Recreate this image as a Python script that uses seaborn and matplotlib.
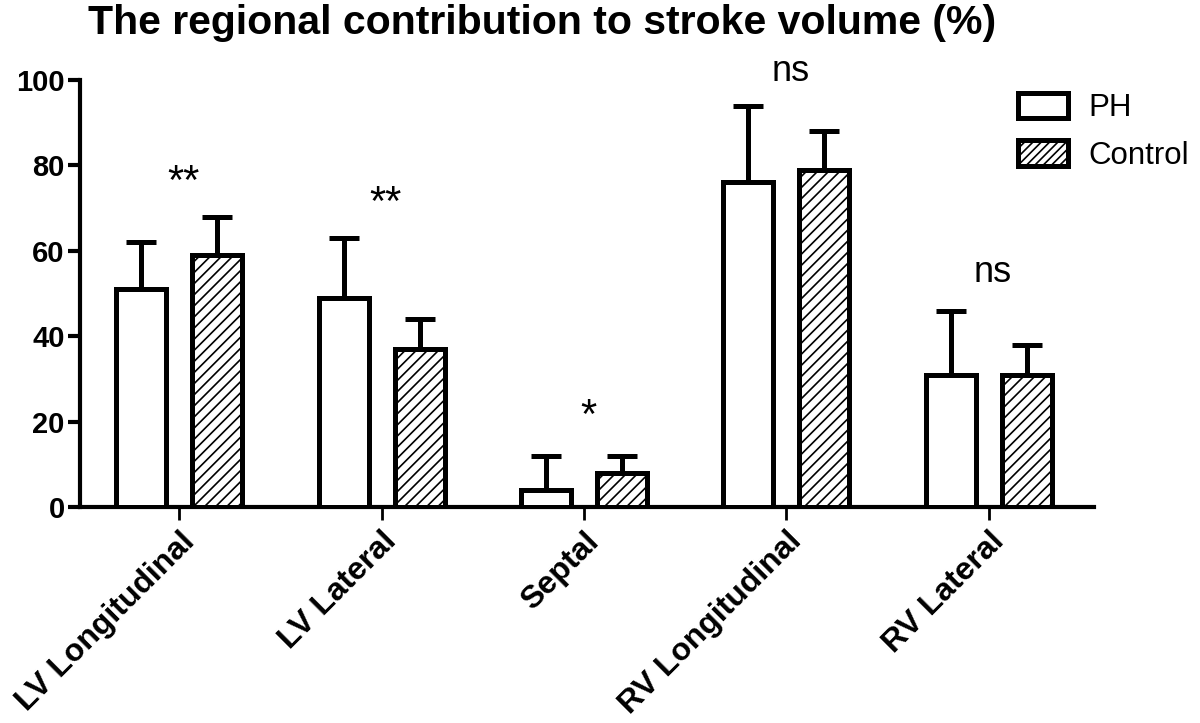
import pandas as pd
import seaborn as sns
import matplotlib.pyplot as plt
from matplotlib.patches import Patch

# Data
regions = ['LV Longitudinal', 'LV Lateral', 'Septal', 'RV Longitudinal', 'RV Lateral']
groups = ['PH', 'Control']
ph_mean = [51, 49, 4, 76, 31]
ph_sd = [11, 14, 8, 18, 15]
ctrl_mean = [59, 37, 8, 79, 31]
ctrl_sd = [9, 7, 4, 9, 7]
signif = ['**', '**', '*', 'ns', 'ns']
signif_y = [76, 71, 21, 102, 55]

df = pd.DataFrame({
    'region': regions * 2,
    'group': ['PH'] * 5 + ['Control'] * 5,
    'mean': ph_mean + ctrl_mean,
    'sd': ph_sd + ctrl_sd,
})

sns.set_style('ticks')
plt.rcParams['font.family'] = ['Liberation Sans', 'DejaVu Sans']
plt.rcParams['hatch.linewidth'] = 1.2
for k in ['text.color', 'axes.labelcolor', 'xtick.color', 'ytick.color', 'axes.edgecolor']:
    plt.rcParams[k] = 'black'

fig = plt.figure(figsize=(12, 7.23), dpi=100)
ax = fig.add_axes([0.0667, 0.2988, 0.845, 0.5905])

sns.barplot(data=df, x='region', y='mean', hue='group', hue_order=groups,
            palette=['white', 'white'], edgecolor='black', linewidth=3.6,
            width=0.75, gap=0.34, errorbar=None, legend=False, ax=ax, zorder=3)

# hatch the control bars, add upper error bars
for cont, sds in zip(ax.containers, [ph_sd, ctrl_sd]):
    xs = [p.get_x() + p.get_width() / 2 for p in cont.patches]
    hs = [p.get_height() for p in cont.patches]
    ax.errorbar(xs, hs, yerr=[[0] * len(sds), sds], fmt='none', ecolor='black',
                elinewidth=3.6, capsize=11, capthick=3.6, zorder=2)
for p in ax.containers[1].patches:
    p.set_hatch('///')

for i, (s, y) in enumerate(zip(signif, signif_y)):
    fs = 30 if '*' in s else 26
    ax.text(i + 0.02, y, s, ha='center', va='center', fontsize=fs, clip_on=False)

ax.set_xlim(-0.49, 4.52)
ax.set_ylim(0, 100)
ax.set_yticks([0, 20, 40, 60, 80, 100])
ax.set_xlabel('')
ax.set_ylabel('')
sns.despine(ax=ax)
ax.spines['left'].set_linewidth(3)
ax.spines['bottom'].set_linewidth(3)
ax.tick_params(axis='y', length=9, width=3, labelsize=21, pad=2)
ax.tick_params(axis='x', length=9, width=2, labelsize=23, pad=5)
for lab in ax.get_yticklabels():
    lab.set_fontweight('bold')
for lab in ax.get_xticklabels():
    lab.set_fontweight('bold')
    lab.set_rotation(45)
    lab.set_ha('right')
    lab.set_rotation_mode('anchor')

handles = [Patch(facecolor='white', edgecolor='black', linewidth=3.6),
           Patch(facecolor='white', edgecolor='black', linewidth=3.6, hatch='////')]
fig.legend(handles, groups, loc='upper left', bbox_to_anchor=(0.848, 0.872),
           frameon=False, fontsize=22.5, handlelength=1.6, handleheight=0.9,
           handletextpad=0.65, labelspacing=0.55, borderpad=0, borderaxespad=0)

fig.text(0.073, 0.995, 'The regional contribution to stroke volume (%)',
         ha='left', va='top', fontsize=29.5, fontweight='bold')

fig.savefig('out.png', dpi=100)
